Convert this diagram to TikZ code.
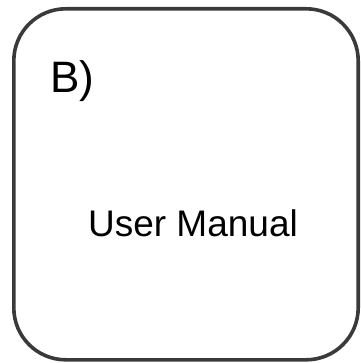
\documentclass[tikz,border=0pt]{standalone}
\usepackage{fontspec}
\setmainfont{Liberation Sans}
\definecolor{frame}{HTML}{3A3A3A}
\begin{document}
\begin{tikzpicture}[x=1pt,y=1pt,
  boxline/.style={draw=frame,line width=3.6pt,rounded corners=52pt},
  lbl/.style={inner sep=0pt,font=\fontsize{44}{48}\selectfont},
  ttl/.style={inner sep=0pt,font=\fontsize{37}{40}\selectfont}]
\useasboundingbox (0,0) rectangle (360,-363);
\draw[boxline] (13.8,-8.8) rectangle (358.2,-359.8);
\node[lbl,anchor=base west] (b) at (50,-93) {B)};
\node[ttl,anchor=base] (u) at (193,-236) {User Manual};
\end{tikzpicture}
\end{document}
